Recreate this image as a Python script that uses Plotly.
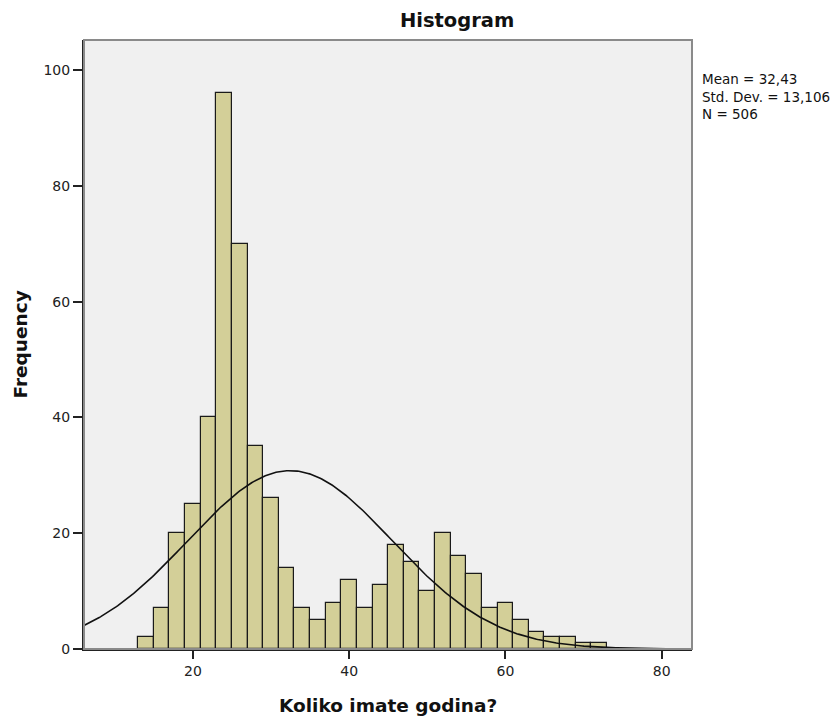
import numpy as np
import plotly.graph_objects as go

# Histogram bins (width 2, starting at 13) and frequencies
bin_starts = [13, 15, 17, 19, 21, 23, 25, 27, 29, 31, 33, 35, 37, 39, 41, 43, 45,
              47, 49, 51, 53, 55, 57, 59, 61, 63, 65, 67, 69, 71]
frequencies = [2, 7, 20, 25, 40, 96, 70, 35, 26, 14, 7, 5, 8, 12, 7, 11, 18,
               15, 10, 20, 16, 13, 7, 8, 5, 3, 2, 2, 1, 1]
bin_width = 2

# Summary statistics shown in the chart
mean_val = 32.43
std_val = 13.106
n_val = 506

x_ticks = [20, 40, 60, 80]
y_ticks = [0, 20, 40, 60, 80, 100]
x_range = [6.06, 83.88]
y_range = [0, 105.2]

centers = [s + bin_width / 2 for s in bin_starts]

# Fitted normal curve (derived from the stated mean, SD and N)
xs = np.linspace(x_range[0], x_range[1], 400)
ys = n_val * bin_width / (std_val * np.sqrt(2 * np.pi)) * np.exp(-0.5 * ((xs - mean_val) / std_val) ** 2)

FONT = "DejaVu Sans, Arial, sans-serif"

fig = go.Figure()
fig.add_trace(go.Bar(
    x=centers, y=frequencies, width=bin_width,
    marker=dict(color="#D3CF98", line=dict(color="#1a1a1a", width=1.2)),
    hoverinfo="x+y", showlegend=False,
))
fig.add_trace(go.Scatter(
    x=xs, y=ys, mode="lines",
    line=dict(color="#111111", width=1.6),
    showlegend=False, hoverinfo="skip",
))

fig.update_layout(
    width=838, height=720,
    margin=dict(l=84, r=146, t=40, b=71),
    paper_bgcolor="white",
    plot_bgcolor="#F0F0F0",
    bargap=0,
    font=dict(family=FONT, size=13, color="#222222"),
    title=dict(text="<b>Histogram</b>", xref="paper", x=0.6137, xanchor="center",
               yref="container", y=0.972, yanchor="middle",
               font=dict(family=FONT, size=19.5, color="#111111")),
    shapes=[dict(type="rect", xref="paper", yref="paper", x0=0, x1=1, y0=0, y1=1,
                 line=dict(color="#8a8a8a", width=2), layer="above")],
    annotations=[
        dict(text="Mean = 32,43<br>Std. Dev. = 13,106<br>N = 506",
             xref="paper", yref="paper", x=1, y=0.953, xshift=8,
             xanchor="left", yanchor="top", align="left", showarrow=False,
             font=dict(family=FONT, size=13.5, color="#111111")),
        dict(text="<b>Koliko imate godina?</b>", xref="paper", yref="paper",
             x=0.5, y=0, yshift=-56, xanchor="center", yanchor="middle",
             showarrow=False, font=dict(family=FONT, size=18.5, color="#111111")),
        dict(text="<b>Frequency</b>", xref="paper", yref="paper",
             x=0, y=0.5, xshift=-64, xanchor="center", yanchor="middle",
             textangle=-90, showarrow=False,
             font=dict(family=FONT, size=18.5, color="#111111")),
    ],
)
fig.update_xaxes(
    range=x_range, tickvals=x_ticks, ticks="outside", ticklen=8, tickwidth=1.5,
    tickcolor="#222222", showgrid=False, zeroline=False,
    showline=True, linecolor="#222222", linewidth=2,
    tickfont=dict(family=FONT, size=14, color="#222222"),
)
fig.update_yaxes(
    range=y_range, tickvals=y_ticks, ticks="outside", ticklen=9, tickwidth=1.5,
    tickcolor="#222222", showgrid=False, zeroline=False,
    showline=True, linecolor="#222222", linewidth=2,
    tickfont=dict(family=FONT, size=14, color="#222222"),
)

fig.write_html("out.html", config={"displayModeBar": False},
               post_script="document.body.style.margin='0';")
